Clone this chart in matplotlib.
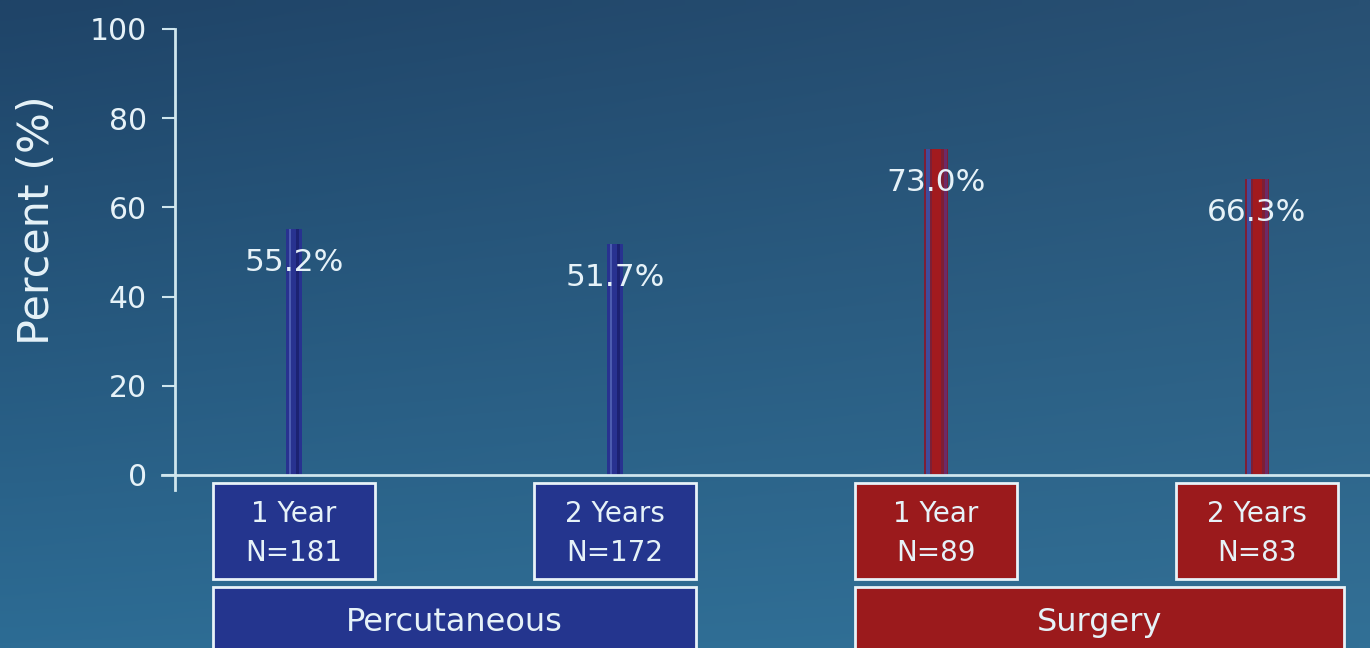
import numpy as np
import matplotlib
matplotlib.use("Agg")
import matplotlib.pyplot as plt
from matplotlib.patches import Rectangle

# Data
groups = ["Percutaneous", "Surgery"]
periods = ["1 Year", "2 Years", "1 Year", "2 Years"]
sample_sizes = [181, 172, 89, 83]
percent_values = [55.2, 51.7, 73.0, 66.3]
group_of_bar = [0, 0, 1, 1]
y_ticks = [0, 20, 40, 60, 80, 100]

plt.rcParams["font.family"] = ["DejaVu Sans"]

W, H, DPI = 1370, 648, 100
fig = plt.figure(figsize=(W / DPI, H / DPI), dpi=DPI)

# Background gradient (darker at the top, lighter toward the bottom)
bg = fig.add_axes([0, 0, 1, 1], zorder=-10)
ny, nx = 64, 64
tl = np.array([31, 68, 104]) / 255
tr = np.array([40, 80, 115]) / 255
bl = np.array([45, 108, 148]) / 255
br = np.array([50, 112, 150]) / 255
u = np.linspace(0, 1, nx)[None, :, None]
v = np.linspace(0, 1, ny)[:, None, None]
grad = (1 - v) * ((1 - u) * tl + u * tr) + v * ((1 - u) * bl + u * br)
bg.imshow(grad, aspect="auto", extent=[0, 1, 0, 1], origin="upper", interpolation="bilinear")
bg.set_axis_off()

ax = fig.add_axes([175 / W, (H - 475) / H, 1 - 175 / W, (475 - 29) / H])
ax.set_facecolor("none")

pos = np.arange(len(percent_values))
ax.set_xlim(-0.371, 3.352)
ax.set_ylim(0, 100)

fg = "#e6f2f8"
line_col = "#cfe6ee"

blue_main, blue_light, blue_dark = "#283290", "#4c5cb0", "#1c2272"
red_main, red_center, red_blue, red_purple = "#7d1f35", "#a21a1e", "#3f4c9c", "#6c2a68"

for p, val, g in zip(pos, percent_values, group_of_bar):
    if g == 0:
        ax.bar(p, val, width=0.05, color=blue_main, zorder=3)
        ax.bar(p - 0.013, val, width=0.007, color=blue_light, zorder=4)
        ax.bar(p + 0.010, val, width=0.008, color=blue_dark, zorder=4)
    else:
        ax.bar(p, val, width=0.075, color=red_main, zorder=3)
        ax.bar(p - 0.024, val, width=0.012, color=red_blue, zorder=4)
        ax.bar(p + 0.002, val, width=0.03, color=red_center, zorder=4)
        ax.bar(p + 0.029, val, width=0.008, color=red_purple, zorder=4)
    ax.text(p, val - 7.5, f"{val:.1f}%", ha="center", va="center",
            fontsize=22.5, color=fg, zorder=6)

# Axis lines
for s in ax.spines.values():
    s.set_visible(False)
ax.plot([0, 0], [-3.4, 100], transform=ax.get_yaxis_transform(), color=line_col,
        lw=2, clip_on=False, zorder=5)
ax.plot([-13 / (W - 175), 1], [0, 0], transform=ax.get_yaxis_transform(), color=line_col,
        lw=2, clip_on=False, zorder=5)

ax.set_xticks([])
ax.set_yticks(y_ticks)
ax.tick_params(axis="y", direction="out", length=9.4, width=1.5, color=line_col,
               labelcolor=fg, labelsize=21.5, pad=11)
ax.set_ylabel("Percent (%)", fontsize=31, color=fg)
ax.yaxis.set_label_coords(-0.098, 0.572)

# Category boxes under the axis
box_colors = ["#24358e", "#9b1a1c"]
half = 0.252
for p, per, n, g in zip(pos, periods, sample_sizes, group_of_bar):
    ax.add_patch(Rectangle((p - half, -23.3), 2 * half, 21.5, facecolor=box_colors[g],
                           edgecolor="#e8f2f8", lw=2, clip_on=False, zorder=5))
    ax.text(p, -8.8, per, ha="center", va="center", fontsize=20, color=fg,
            clip_on=False, zorder=6)
    ax.text(p, -17.6, f"N={n}", ha="center", va="center", fontsize=20, color=fg,
            clip_on=False, zorder=6)

for gi, name in enumerate(groups):
    members = [p for p, g in zip(pos, group_of_bar) if g == gi]
    left = min(members) - half
    right = max(members) + half + (0.02 if gi == 1 else 0)
    ax.add_patch(Rectangle((left, -45), right - left, 45 - 25.1, facecolor=box_colors[gi],
                           edgecolor="#e8f2f8", lw=2, clip_on=False, zorder=5))
    ax.text((left + right) / 2, -33.0, name, ha="center", va="center", fontsize=23,
            color=fg, clip_on=False, zorder=6)

fig.savefig("out.png", dpi=DPI)
